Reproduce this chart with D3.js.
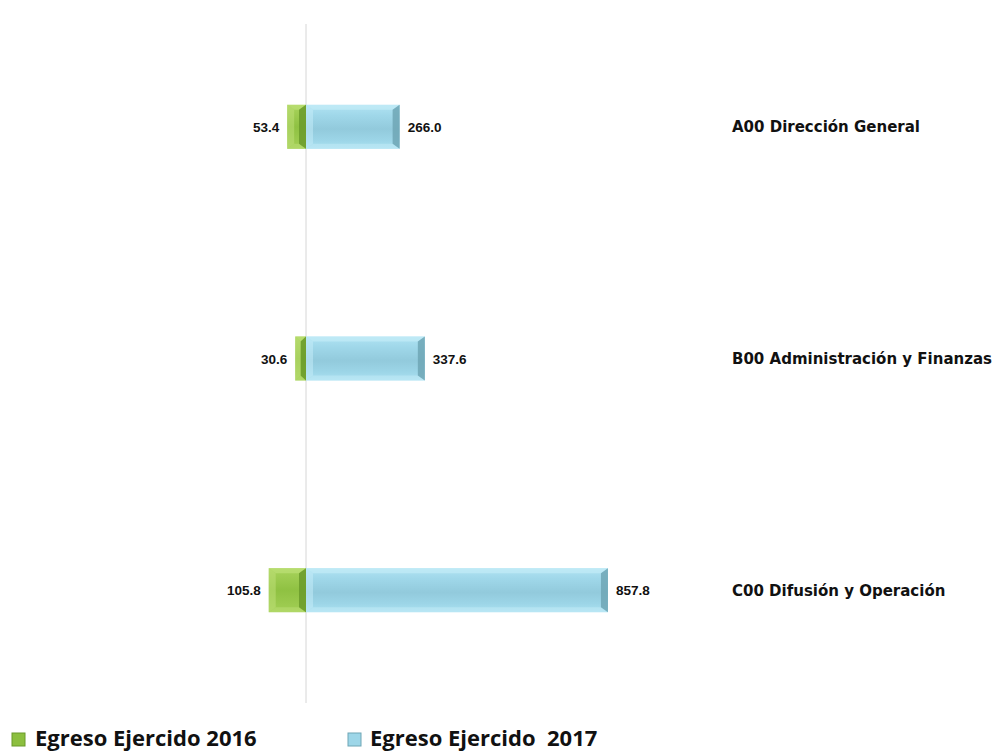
<!DOCTYPE html>
<html>
<head>
<meta charset="utf-8">
<script src="https://cdn.jsdelivr.net/npm/d3@7"></script>
<style>
html, body { margin:0; padding:0; background:#fff; }
#chart { width:1004px; height:752px; }
</style>
</head>
<body>
<div id="chart"></div>
<script>
var categories = ["A00 Dirección General", "B00 Administración y Finanzas", "C00 Difusión y Operación"];
var egreso2016 = [53.4, 30.6, 105.8];
var egreso2017 = [266.0, 337.6, 857.8];
var seriesNames = ["Egreso Ejercido 2016", "Egreso Ejercido  2017"];

var dom = document.getElementById('chart');
var width = 1004, height = 752;

var svg = d3.select(dom)
	.append("svg")
	.attr("width", width)
	.attr("height", height);

var origin = 306;
var barH = 44;

var xScale = d3.scaleLinear()
	.domain([0, 1000])
	.range([0, 352]);

var yScale = d3.scalePoint()
	.domain(categories)
	.range([11, 706])
	.padding(0.5);

var defs = svg.append("defs");
function grad(id, stops) {
	var g = defs.append("linearGradient")
		.attr("id", id)
		.attr("x1", "0%").attr("y1", "0%")
		.attr("x2", "0%").attr("y2", "100%");
	stops.forEach(function(s) {
		g.append("stop").attr("offset", s[0]).style("stop-color", s[1]);
	});
}
grad("blueFill", [["0%", "#b0e3f3"], ["25%", "#9fd7e9"], ["55%", "#92cadc"], ["80%", "#9cd5e7"], ["100%", "#ace1f1"]]);
grad("greenFill", [["0%", "#a8d35c"], ["50%", "#8fc142"], ["100%", "#a2cf55"]]);

// axis line
svg.append("line")
	.attr("x1", origin).attr("x2", origin)
	.attr("y1", 24).attr("y2", 703)
	.attr("stroke", "#d6d6d6")
	.attr("stroke-width", 1);

var g = svg.append("g").attr("transform", "translate(" + origin + ",0)");

// bevelled bar helper
function bevelBar(x0, x1, yc, fill, light, dark) {
	var y0 = yc - barH / 2, y1 = yc + barH / 2;
	var b = Math.min(7, (x1 - x0) / 2);
	g.append("rect")
		.attr("x", x0).attr("y", y0)
		.attr("width", x1 - x0).attr("height", barH)
		.attr("fill", "url(#" + fill + ")");
	// top edge
	g.append("path")
		.attr("d", "M" + x0 + "," + y0 + "L" + x1 + "," + y0 + "L" + (x1 - b) + "," + (y0 + 5) + "L" + (x0 + b) + "," + (y0 + 5) + "Z")
		.attr("fill", light).attr("opacity", 0.6);
	// bottom edge
	g.append("path")
		.attr("d", "M" + x0 + "," + y1 + "L" + x1 + "," + y1 + "L" + (x1 - b) + "," + (y1 - 5) + "L" + (x0 + b) + "," + (y1 - 5) + "Z")
		.attr("fill", light).attr("opacity", 0.45);
	// right end darker
	g.append("path")
		.attr("d", "M" + x1 + "," + y0 + "L" + x1 + "," + y1 + "L" + (x1 - b) + "," + (y1 - 5) + "L" + (x1 - b) + "," + (y0 + 5) + "Z")
		.attr("fill", dark).attr("opacity", 0.85);
	// left end lighter
	g.append("path")
		.attr("d", "M" + x0 + "," + y0 + "L" + x0 + "," + y1 + "L" + (x0 + b) + "," + (y1 - 5) + "L" + (x0 + b) + "," + (y0 + 5) + "Z")
		.attr("fill", light).attr("opacity", 0.5);
}

categories.forEach(function(c, i) {
	var yc = yScale(c);
	bevelBar(-xScale(egreso2016[i]), 0, yc, "greenFill", "#c2e27c", "#6a9a2a");
	bevelBar(0, xScale(egreso2017[i]), yc, "blueFill", "#c8eef9", "#6fa6b5");
});

// value labels
g.selectAll(".lbl2016")
	.data(egreso2016)
	.enter().append("text")
	.attr("x", function(d) { return -xScale(d) - 8; })
	.attr("y", function(d, i) { return yScale(categories[i]) + 5; })
	.attr("text-anchor", "end")
	.style("font-family", "Liberation Sans, Arial, sans-serif")
	.style("font-weight", "bold")
	.style("font-size", "13.5px")
	.attr("fill", "#111")
	.text(function(d) { return d.toFixed(1); });

g.selectAll(".lbl2017")
	.data(egreso2017)
	.enter().append("text")
	.attr("x", function(d) { return xScale(d) + 8; })
	.attr("y", function(d, i) { return yScale(categories[i]) + 5; })
	.attr("text-anchor", "start")
	.style("font-family", "Liberation Sans, Arial, sans-serif")
	.style("font-weight", "bold")
	.style("font-size", "13.5px")
	.attr("fill", "#111")
	.text(function(d) { return d.toFixed(1); });

// category labels
svg.selectAll(".cat")
	.data(categories)
	.enter().append("text")
	.attr("x", 732)
	.attr("y", function(d) { return yScale(d) + 5.5; })
	.style("font-family", "DejaVu Sans, sans-serif")
	.style("font-weight", "bold")
	.style("font-size", "15px")
	.attr("fill", "#111")
	.text(function(d) { return d; });

// legend
var legendX = [12, 348];
var legendCol = [["#8cbf3f", "#6a9a2a"], ["#9dd6e8", "#6fa6b5"]];
var leg = svg.selectAll(".legend")
	.data(seriesNames)
	.enter().append("g")
	.attr("transform", function(d, i) { return "translate(" + legendX[i] + ",733)"; });

leg.append("rect")
	.attr("width", 13).attr("height", 13)
	.attr("fill", function(d, i) { return legendCol[i][0]; })
	.attr("stroke", function(d, i) { return legendCol[i][1]; })
	.attr("stroke-width", 1);

leg.append("text")
	.attr("x", function(d, i) { return i == 0 ? 23 : 22; })
	.attr("y", 13)
	.style("font-family", "Open Sans, sans-serif")
	.style("font-weight", "bold")
	.style("font-size", "22px")
	.style("white-space", "pre")
	.attr("fill", "#111")
	.text(function(d) { return d; });
</script>
</body>
</html>
